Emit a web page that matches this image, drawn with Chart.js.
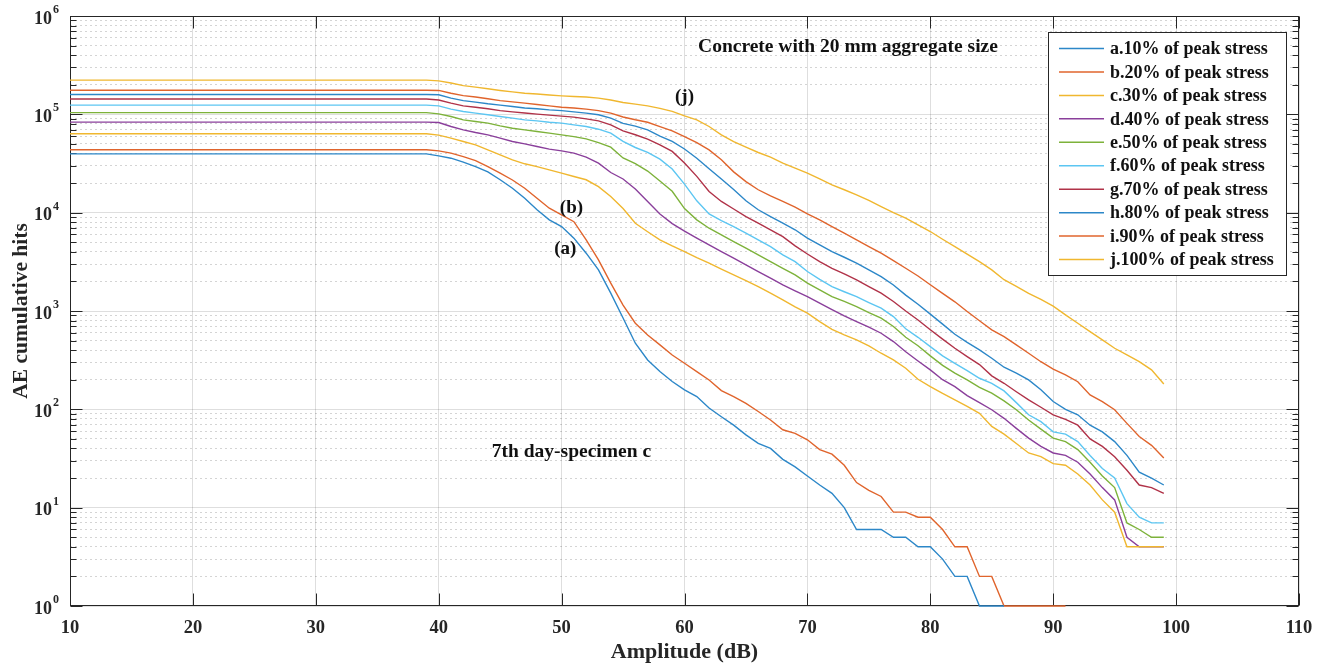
<!DOCTYPE html>
<html>
<head>
<meta charset="utf-8">
<title>AE cumulative hits vs amplitude</title>
<script src="https://cdn.jsdelivr.net/npm/chart.js@4.4.1/dist/chart.umd.min.js"></script>
<style>
  html, body { margin: 0; padding: 0; background: #fff; }
  #wrap { width: 1327px; height: 668px; position: relative; }
</style>
</head>
<body>
<div id="wrap"><canvas id="aeChart"></canvas></div>
<script>
// amplitude (dB): flat plateau 10..39, then one reading per dB
const amplitude = [10, 39,
  40, 41, 42, 43, 44, 45, 46, 47, 48, 49,
  50, 51, 52, 53, 54, 55, 56, 57, 58, 59,
  60, 61, 62, 63, 64, 65, 66, 67, 68, 69,
  70, 71, 72, 73, 74, 75, 76, 77, 78, 79,
  80, 81, 82, 83, 84, 85, 86, 87, 88, 89,
  90, 91, 92, 93, 94, 95, 96, 97, 98, 99];

const hits10 = [39600, 39600,
  37800, 35800, 32700, 29400, 26000, 21600, 17700, 14000, 10700, 8450,
  7220, 5510, 3870, 2620, 1520, 850, 470, 318, 242, 192,
  158, 135, 103, 84, 69, 55, 45, 40, 31, 26,
  21, 17, 14, 10, 6, 6, 6, 5, 5, 4,
  4, 3, 2, 2, 1, 1, 1, null, null, null,
  null, null, null, null, null, null, null, null, null, null];

const hits20 = [43600, 43600,
  42500, 40300, 37200, 33900, 29400, 25200, 21500, 17700, 14000, 11100,
  9500, 8100, 5290, 3310, 1920, 1150, 751, 571, 452, 357,
  294, 242, 199, 155, 135, 115, 95, 78, 62, 57,
  49, 39, 35, 27, 18, 15, 13, 9, 9, 8,
  8, 6, 4, 4, 2, 2, 1, 1, 1, 1,
  1, 1, null, null, null, null, null, null, null, null];

const hits30 = [63400, 63400,
  61400, 57200, 52900, 48900, 43500, 38700, 34400, 31400, 29400, 27200,
  25200, 23300, 21600, 18400, 14600, 11000, 7800, 6400, 5290, 4590,
  4020, 3490, 3060, 2660, 2330, 2040, 1770, 1520, 1300, 1100,
  950, 780, 652, 571, 508, 442, 372, 318, 262, 202,
  170, 145, 125, 107, 91, 67, 56, 45, 36, 33,
  28, 27, 22, 17, 12, 9, 4, 4, 4, 4];

const hits40 = [83300, 83300,
  82600, 75200, 69500, 65300, 61800, 57200, 52900, 50100, 47100, 44300,
  42500, 40300, 36700, 31900, 25600, 22000, 17400, 13000, 9700, 7750,
  6500, 5510, 4700, 4020, 3440, 2940, 2520, 2160, 1840, 1600,
  1400, 1200, 1030, 891, 780, 684, 594, 489, 385, 310,
  252, 200, 170, 138, 117, 99, 81, 64, 51, 42,
  36, 34, 29, 22, 16, 12, 5, 4, 4, 4];

const hits50 = [104000, 104000,
  101000, 95000, 87900, 84500, 81300, 76400, 72300, 69500, 66800, 64400,
  61800, 59400, 56300, 51600, 46300, 36000, 31500, 26500, 21000, 16500,
  11000, 8450, 6950, 5940, 5080, 4350, 3720, 3180, 2720, 2330,
  1920, 1640, 1400, 1250, 1110, 964, 845, 695, 540, 443,
  350, 280, 233, 199, 167, 146, 122, 99, 78, 63,
  51, 47, 39, 29, 21, 16, 7, 6, 5, 5];

const hits60 = [124000, 124000,
  122000, 113000, 107000, 103000, 98900, 95000, 91500, 87900, 85900, 83200,
  81300, 78200, 75200, 70600, 64400, 53000, 46000, 41000, 35000, 27800,
  19500, 13200, 9700, 8300, 7220, 6180, 5290, 4520, 3720, 3180,
  2520, 2100, 1770, 1570, 1400, 1220, 1070, 877, 660, 540,
  434, 350, 294, 247, 207, 184, 154, 117, 88, 75,
  59, 56, 47, 34, 25, 20, 11, 8, 7, 7];

const hits70 = [143000, 143000,
  140000, 130000, 122000, 118000, 114000, 109000, 106000, 103000, 100400, 98100,
  95800, 93600, 90000, 85900, 78200, 68000, 62000, 56000, 49000, 42000,
  32000, 23400, 16400, 13000, 10900, 9130, 7820, 6680, 5710, 4600,
  3800, 3180, 2720, 2380, 2070, 1770, 1520, 1250, 1000, 811,
  645, 518, 418, 344, 285, 219, 184, 151, 125, 105,
  88, 79, 69, 50, 42, 33, 24, 17, 16, 14];

const hits80 = [159000, 159000,
  158000, 146000, 138000, 133000, 128000, 124000, 120000, 116000, 114000, 111000,
  109000, 106000, 103000, 98900, 91500, 81000, 76000, 69500, 60000, 53000,
  44400, 35800, 28000, 22000, 17200, 13200, 10700, 9130, 7820, 6700,
  5510, 4700, 4020, 3520, 3060, 2620, 2240, 1840, 1450, 1170,
  930, 735, 580, 480, 402, 331, 268, 233, 199, 158,
  120, 100, 88, 69, 59, 47, 34, 23, 20, 17];

const hits90 = [176000, 176000,
  175000, 164000, 155000, 150000, 144000, 138000, 134000, 130000, 126000, 122000,
  118000, 116000, 113000, 109000, 103000, 94000, 88000, 83000, 75000, 68000,
  59500, 51500, 43500, 34500, 26000, 20700, 17100, 14800, 13000, 11400,
  9720, 8450, 7220, 6180, 5290, 4520, 3870, 3260, 2720, 2270,
  1850, 1510, 1240, 990, 795, 642, 549, 452, 372, 305,
  256, 224, 191, 140, 120, 99, 72, 53, 43, 32];

const hits100 = [223000, 223000,
  219000, 208000, 196000, 189000, 182000, 175000, 169000, 164000, 161000, 157000,
  154000, 152000, 150000, 146000, 140000, 132000, 127000, 122000, 115000, 107000,
  96600, 87900, 75200, 61800, 52900, 46400, 40900, 36700, 31900, 28400,
  25200, 22100, 19200, 17100, 15200, 13300, 11500, 10000, 8790, 7510,
  6430, 5370, 4520, 3790, 3180, 2620, 2080, 1780, 1510, 1310,
  1120, 913, 751, 617, 508, 418, 357, 305, 252, 181];

const seriesLabels = [
  "a.10% of peak stress", "b.20% of peak stress", "c.30% of peak stress",
  "d.40% of peak stress", "e.50% of peak stress", "f.60% of peak stress",
  "g.70% of peak stress", "h.80% of peak stress", "i.90% of peak stress",
  "j.100% of peak stress"
];
const seriesValues = [hits10, hits20, hits30, hits40, hits50, hits60, hits70, hits80, hits90, hits100];
// MATLAB-like line order (slightly lighter to match the scan), wraps after 7
const seriesColors = ["#2c87c8", "#e0642c", "#f0b72f", "#8a3f9b", "#7db23a",
  "#5cc6f2", "#b03248", "#2c87c8", "#e0642c", "#f0b72f"];

const xTicks = [10, 20, 30, 40, 50, 60, 70, 80, 90, 100, 110];
const yDecades = [1, 10, 100, 1000, 10000, 100000, 1000000];
const yExponents = ["0", "1", "2", "3", "4", "5", "6"];

const SERIF = "'Liberation Serif', 'Times New Roman', serif";
const INK = "#262626";

function isDecade(v) {
  const l = Math.log10(v);
  return Math.abs(l - Math.round(l)) < 1e-9;
}

// Axes box + inward ticks go under the curves, labels/notes/legend on top.
const matlabFrame = {
  id: "matlabFrame",
  beforeDatasetsDraw(chart) {
    const { ctx, chartArea: a, scales: { x, y } } = chart;
    const L = Math.round(a.left) + 0.5, R = Math.round(a.right) - 0.5;
    const T = Math.round(a.top) + 0.5, B = Math.round(a.bottom) - 0.5;
    ctx.save();
    ctx.strokeStyle = INK;
    ctx.lineWidth = 1;
    ctx.beginPath();
    xTicks.forEach(v => {
      const px = Math.round(x.getPixelForValue(v)) + 0.5;
      ctx.moveTo(px, B); ctx.lineTo(px, B - 12);
      ctx.moveTo(px, T); ctx.lineTo(px, T + 12);
    });
    y.ticks.forEach(t => {
      const py = Math.round(y.getPixelForValue(t.value)) + 0.5;
      const len = isDecade(t.value) ? 12 : 6;
      ctx.moveTo(L, py); ctx.lineTo(L + len, py);
      ctx.moveTo(R, py); ctx.lineTo(R - len, py);
    });
    ctx.stroke();
    ctx.strokeRect(L, T, R - L, B - T);
    ctx.restore();
  },
  afterDraw(chart) {
    const { ctx, scales: { x, y } } = chart;
    ctx.save();

    // y tick labels as 10 with a raised exponent
    ctx.fillStyle = INK;
    ctx.textBaseline = "middle";
    yDecades.forEach((v, i) => {
      const py = y.getPixelForValue(v);
      ctx.font = "bold 18px " + SERIF;
      ctx.textAlign = "right";
      ctx.fillText("10", 52, py + 3);
      ctx.font = "bold 12px " + SERIF;
      ctx.textAlign = "left";
      ctx.fillText(yExponents[i], 53, py - 6);
    });

    // curve notes and captions
    ctx.fillStyle = "#111";
    ctx.textAlign = "center";
    const note = (text, xv, yv) => ctx.fillText(text, x.getPixelForValue(xv), y.getPixelForValue(yv));
    ctx.font = "bold 19px " + SERIF;
    note("(j)", 60, 150000);
    note("(b)", 50.8, 11200);
    note("(a)", 50.3, 4300);
    ctx.font = "bold 19.5px " + SERIF;
    note("Concrete with 20 mm aggregate size", 73.3, 486000);
    note("7th day-specimen c", 50.8, 37);

    // legend, top right inside the axes
    const lx = 1048, ly = 32, lw = 238, lh = 243;
    ctx.fillStyle = "#fff";
    ctx.fillRect(lx, ly, lw, lh);
    ctx.strokeStyle = INK;
    ctx.lineWidth = 1;
    ctx.strokeRect(lx + 0.5, ly + 0.5, lw, lh);
    ctx.font = "bold 18px " + SERIF;
    ctx.textAlign = "left";
    chart.data.datasets.forEach((ds, i) => {
      const cy = ly + 16.5 + i * 23.45;
      ctx.strokeStyle = ds.borderColor;
      ctx.lineWidth = 1.5;
      ctx.beginPath();
      ctx.moveTo(lx + 11, cy); ctx.lineTo(lx + 56, cy);
      ctx.stroke();
      ctx.fillStyle = "#111";
      ctx.fillText(ds.label, lx + 62, cy + 1);
    });
    ctx.restore();
  }
};

const datasets = seriesValues.map((vals, i) => ({
  label: seriesLabels[i],
  data: amplitude.map((a, k) => ({ x: a, y: vals[k] })),
  borderColor: seriesColors[i],
  borderWidth: 1.4,
  pointRadius: 0,
  tension: 0,
  fill: false,
  clip: { left: 0, top: 0, right: 0, bottom: 3 },
}));

new Chart(document.getElementById("aeChart"), {
  type: "line",
  data: { datasets },
  plugins: [matlabFrame],
  options: {
    responsive: true,
    maintainAspectRatio: false,
    animation: false,
    devicePixelRatio: 1,
    layout: { padding: { top: 16, right: 28, left: 0, bottom: 0 } },
    plugins: { legend: { display: false }, tooltip: { enabled: false } },
    scales: {
      x: {
        type: "linear",
        min: 10,
        max: 110,
        afterBuildTicks: s => { s.ticks = xTicks.map(v => ({ value: v })); },
        afterFit: s => { s.height = 62; },
        grid: { color: "rgba(0,0,0,0.13)", drawTicks: false },
        border: { display: false },
        ticks: { color: INK, padding: 11, font: { family: SERIF, size: 18.5, weight: "bold" } },
        title: {
          display: true,
          text: "Amplitude (dB)",
          color: INK,
          font: { family: SERIF, size: 22, weight: "bold" },
          padding: { top: 0, bottom: 2 },
        },
      },
      y: {
        type: "logarithmic",
        min: 1,
        max: 1000000,
        afterBuildTicks: s => {
          const ticks = [];
          yDecades.forEach((d, i) => {
            ticks.push({ value: d, major: true });
            if (i < yDecades.length - 1) {
              for (let m = 2; m <= 9; m++) ticks.push({ value: d * m });
            }
          });
          s.ticks = ticks;
        },
        afterFit: s => { s.width = 70; },
        grid: {
          drawTicks: false,
          color: c => (c.tick && isDecade(c.tick.value)) ? "rgba(0,0,0,0.13)" : "rgba(0,0,0,0.17)",
        },
        border: {
          display: false,
          dash: c => (c.tick && !isDecade(c.tick.value)) ? [2, 3] : [],
        },
        ticks: { display: false, autoSkip: false },
        title: {
          display: true,
          text: "AE cumulative hits",
          color: INK,
          font: { family: SERIF, size: 21.5, weight: "bold" },
          padding: { top: 9, bottom: 0 },
        },
      },
    },
  },
});
</script>
</body>
</html>
